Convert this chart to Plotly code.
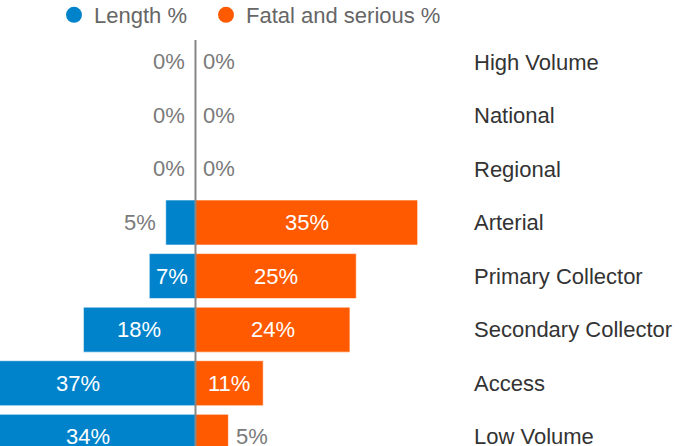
import plotly.graph_objects as go

categories = ["High Volume", "National", "Regional", "Arterial", "Primary Collector",
              "Secondary Collector", "Access", "Low Volume"]
length_pct = [0, 0, 0, 4.7, 7.3, 17.7, 37, 34.1]
fatal_pct = [0, 0, 0, 35.1, 25.4, 24.4, 10.7, 5.2]

BLUE = "#0083CB"
ORANGE = "#FF5A00"
FONT = "Liberation Sans, Arial, sans-serif"

fig = go.Figure()
fig.add_trace(go.Bar(y=categories, x=[-v for v in length_pct], orientation="h",
                     marker=dict(color=BLUE, line=dict(color="rgba(255,255,255,0.6)", width=1)),
                     width=0.84, showlegend=False, hoverinfo="skip"))
fig.add_trace(go.Bar(y=categories, x=fatal_pct, orientation="h",
                     marker=dict(color=ORANGE, line=dict(color="rgba(255,255,255,0.6)", width=1)),
                     width=0.84, showlegend=False, hoverinfo="skip"))
# legend entries with round markers
fig.add_trace(go.Scatter(x=[None], y=[None], mode="markers", name="Length %", legendwidth=107,
                         marker=dict(color=BLUE, size=16, symbol="circle")))
fig.add_trace(go.Scatter(x=[None], y=[None], mode="markers", name="Fatal and serious %",
                         marker=dict(color=ORANGE, size=16, symbol="circle")))

annotations = []
THRESH = 6
for cat, v in zip(categories, length_pct):
    label = f"{round(v)}%"
    if v >= THRESH:
        annotations.append(dict(x=-v / 2, y=cat, text=label, showarrow=False, xanchor="center",
                                yanchor="middle", font=dict(color="white", size=22, family=FONT)))
    else:
        annotations.append(dict(x=-v, y=cat, text=label, showarrow=False, xanchor="right",
                                yanchor="middle", xshift=-8,
                                font=dict(color="#7a7a7a", size=22, family=FONT)))
for cat, v in zip(categories, fatal_pct):
    label = f"{round(v)}%"
    if v >= THRESH:
        annotations.append(dict(x=v / 2, y=cat, text=label, showarrow=False, xanchor="center",
                                yanchor="middle", font=dict(color="white", size=22, family=FONT)))
    else:
        annotations.append(dict(x=v, y=cat, text=label, showarrow=False, xanchor="left",
                                yanchor="middle", xshift=6,
                                font=dict(color="#7a7a7a", size=22, family=FONT)))

fig.update_layout(
    width=679, height=446,
    margin=dict(l=0, r=206, t=40, b=0, autoexpand=False),
    paper_bgcolor="white", plot_bgcolor="white",
    barmode="overlay",
    font=dict(family=FONT, size=22, color="#333333"),
    annotations=annotations,
    shapes=[dict(type="line", xref="x", yref="paper", x0=0, x1=0, y0=0, y1=1, layer="above",
                 line=dict(color="#878787", width=2))],
    legend=dict(orientation="h", x=54 / 473, y=1 + 46 / 406, xanchor="left", yanchor="top",
                font=dict(size=22, color="#666666", family=FONT), bgcolor="rgba(0,0,0,0)"),
    xaxis=dict(range=[-30.88, 43.84], showticklabels=False, showgrid=False, showline=False,
               zeroline=False, fixedrange=True),
    yaxis=dict(type="category", categoryorder="array", categoryarray=categories,
               range=[7.172, -0.407], side="right", showgrid=False, showline=False, ticks="",
               zeroline=False, tickfont=dict(size=22, color="#333333", family=FONT),
               fixedrange=True),
)

fig.write_html("out.html", config={"displayModeBar": False},
               post_script="document.body.style.margin='0';document.body.style.overflow='hidden';")
